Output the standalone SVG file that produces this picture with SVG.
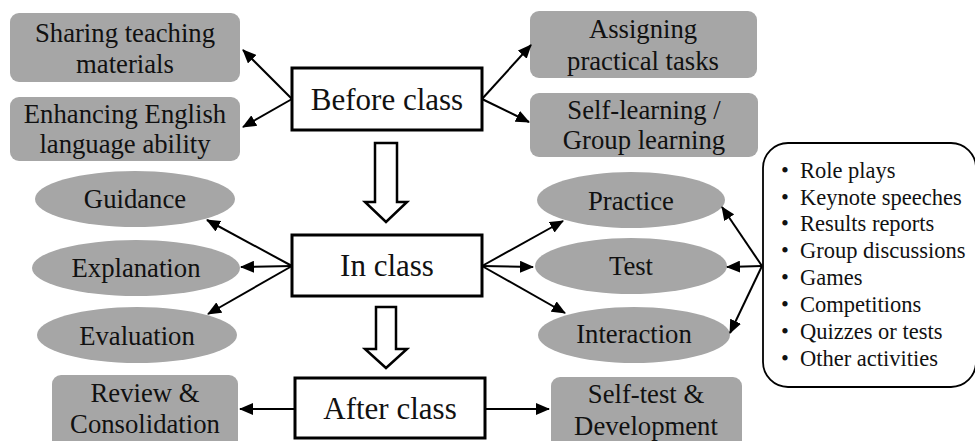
<svg xmlns="http://www.w3.org/2000/svg" width="975" height="441" viewBox="0 0 975 441">
<defs>
<marker id="ah" markerUnits="userSpaceOnUse" markerWidth="14" markerHeight="12" viewBox="0 0 14 12" refX="13" refY="6" orient="auto">
<path d="M0,0 L14,6 L0,12 Z" fill="#000"/>
</marker>
</defs>
<style>
.g{fill:#a6a6a6;stroke:none}
.m{fill:#fff;stroke:#000;stroke-width:3}
.t{fill:#111;text-anchor:middle}
.s{font-size:26.7px}
.b{font-size:31px}
.l{fill:#111;font-size:22.5px}
.c{stroke:#000;stroke-width:2;fill:none;marker-end:url(#ah)}
.h{fill:#fff;stroke:#000;stroke-width:2.5;stroke-linejoin:miter}
</style>
<rect width="975" height="441" fill="#fff"/>
<g font-family="'Liberation Serif', 'DejaVu Serif', serif">
<g id="sharing"><rect class="g" x="10" y="13" width="230" height="69" rx="9"/><text class="t s" x="125" y="42">Sharing teaching</text><text class="t s" x="125" y="73">materials</text></g>
<g id="enhancing"><rect class="g" x="10" y="97" width="230" height="64" rx="9"/><text class="t s" x="125" y="123">Enhancing English</text><text class="t s" x="125" y="153">language ability</text></g>
<g id="assigning"><rect class="g" x="530" y="11" width="227" height="67" rx="9"/><text class="t s" x="643" y="38">Assigning</text><text class="t s" x="643" y="70">practical tasks</text></g>
<g id="selflearning"><rect class="g" x="530" y="93" width="228" height="64" rx="9"/><text class="t s" x="644" y="119">Self-learning /</text><text class="t s" x="644" y="149">Group learning</text></g>
<g id="before"><rect class="m" x="292" y="68" width="190" height="62"/><text class="t b" x="387" y="110">Before class</text></g>
<g id="inclass"><rect class="m" x="292" y="235" width="190" height="61"/><text class="t b" x="387" y="276">In class</text></g>
<g id="after"><rect class="m" x="295" y="378" width="190" height="60"/><text class="t b" x="390" y="419">After class</text></g>
<g id="guidance"><ellipse class="g" cx="135" cy="199" rx="100" ry="28"/><text class="t s" x="135" y="208">Guidance</text></g>
<g id="explanation"><ellipse class="g" cx="136" cy="268" rx="104" ry="28"/><text class="t s" x="136" y="277">Explanation</text></g>
<g id="evaluation"><ellipse class="g" cx="137" cy="335" rx="100" ry="28"/><text class="t s" x="137" y="345">Evaluation</text></g>
<g id="practice"><ellipse class="g" cx="631" cy="200" rx="94" ry="28"/><text class="t s" x="631" y="210">Practice</text></g>
<g id="test"><ellipse class="g" cx="631" cy="266" rx="96" ry="28"/><text class="t s" x="631" y="275">Test</text></g>
<g id="interaction"><ellipse class="g" cx="634" cy="335" rx="96" ry="28"/><text class="t s" x="634" y="343">Interaction</text></g>
<g id="review"><rect class="g" x="52" y="375" width="186" height="75" rx="9"/><text class="t s" x="145" y="402">Review &amp;</text><text class="t s" x="145" y="433">Consolidation</text></g>
<g id="selftest"><rect class="g" x="551" y="377" width="191" height="75" rx="9"/><text class="t s" x="646" y="403">Self-test &amp;</text><text class="t s" x="646" y="435">Development</text></g>
<g id="activities"><rect x="763" y="143" width="213" height="244" rx="25" fill="#fff" stroke="#000" stroke-width="1.8"/>
<g class="l">
<text x="781" y="178">•</text><text x="800" y="178">Role plays</text>
<text x="781" y="205">•</text><text x="800" y="205">Keynote speeches</text>
<text x="781" y="231">•</text><text x="800" y="231">Results reports</text>
<text x="781" y="258">•</text><text x="800" y="258">Group discussions</text>
<text x="781" y="285">•</text><text x="800" y="285">Games</text>
<text x="781" y="312">•</text><text x="800" y="312">Competitions</text>
<text x="781" y="339">•</text><text x="800" y="339">Quizzes or tests</text>
<text x="781" y="366">•</text><text x="800" y="366">Other activities</text>
</g></g>
</g>
<g id="connectors">
<polygon class="h" points="375,143 397,143 397,202 407,202 386,222 365,202 375,202"/>
<polygon class="h" points="376,307 396,307 396,349 407,349 386,368 365,349 376,349"/>
<line class="c" x1="292" y1="99" x2="243" y2="50"/>
<line class="c" x1="292" y1="99" x2="243" y2="127"/>
<line class="c" x1="482" y1="99" x2="531" y2="45"/>
<line class="c" x1="482" y1="99" x2="529" y2="122"/>
<line class="c" x1="292" y1="266" x2="207" y2="220"/>
<line class="c" x1="292" y1="266" x2="241" y2="267"/>
<line class="c" x1="292" y1="266" x2="208" y2="314"/>
<line class="c" x1="482" y1="266" x2="563" y2="221"/>
<line class="c" x1="482" y1="266" x2="533" y2="267"/>
<line class="c" x1="482" y1="266" x2="565" y2="313"/>
<line class="c" x1="762" y1="266" x2="722" y2="207"/>
<line class="c" x1="762" y1="266" x2="727" y2="267"/>
<line class="c" x1="762" y1="266" x2="730" y2="333"/>
<line class="c" x1="295" y1="409" x2="240" y2="409"/>
<line class="c" x1="485" y1="409" x2="549" y2="409"/>
</g>
</svg>
